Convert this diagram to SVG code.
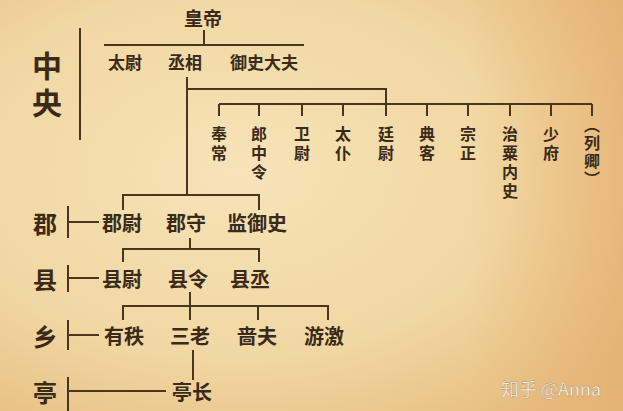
<svg xmlns="http://www.w3.org/2000/svg" width="623" height="411" viewBox="0 0 623 411">
<defs>
<radialGradient id="bg" cx="0.38" cy="0.42" r="0.75">
<stop offset="0" stop-color="#f6e3b8"/>
<stop offset="0.6" stop-color="#f1d7a2"/>
<stop offset="1" stop-color="#e6bd80"/>
</radialGradient>
<linearGradient id="rt" x1="0" y1="0" x2="1" y2="0">
<stop offset="0.75" stop-color="#e8b070" stop-opacity="0"/>
<stop offset="1" stop-color="#e4a868" stop-opacity="0.5"/>
</linearGradient>
<style>
text{font-family:"Noto Sans CJK SC","Noto Sans",sans-serif;font-weight:bold;fill:#3a2a18;text-anchor:middle;dominant-baseline:central}
.s{font-size:17px}
.v{font-size:16px;writing-mode:vertical-rl;text-anchor:start;letter-spacing:3px}
.v2{font-size:16px;writing-mode:vertical-rl;text-anchor:start;letter-spacing:2px}
.m{font-size:20px}
.L{font-size:24px}
.XL{font-size:30px;writing-mode:vertical-rl;text-anchor:start;letter-spacing:7px}
.ln{stroke:#4a3520;stroke-width:2;fill:none}
.wm{font-family:"Noto Sans CJK SC","Noto Sans",sans-serif;font-weight:normal;font-size:18px;fill:#ffffff;stroke:#a08a66;stroke-width:0.4;text-anchor:start}
</style>
</defs>
<rect width="623" height="411" fill="url(#bg)"/>
<rect width="623" height="411" fill="url(#rt)"/>

<g id="connectors" class="ln">
<path d="M204 30V45M104 45H304"/>
<path d="M80 28V140"/>
<path d="M187 77V195M187 89H386V116"/>
<path d="M219 104H592M219 104V116M259 104V116M302 104V116M343 104V116M427 104V116M468 104V116M510 104V116M551 104V116M592 104V116"/>
<path d="M123 210V195H259V210"/>
<path d="M190 238V249M123 262V249H259V262"/>
<path d="M190 292V306M123 320V306H328V320M190 306V320M258 306V320"/>
<path d="M193 350V380"/>
<path d="M68 206V238M68 222H99"/>
<path d="M68 265V292M68 278H99"/>
<path d="M68 320V350M68 335H99"/>
<path d="M68 377V411M68 391H166"/>
</g>

<g id="huangdi"><text x="203" y="17" style="font-size:19px">皇帝</text></g>
<g id="taiwei"><text class="s" x="125" y="61">太尉</text></g>
<g id="chengxiang"><text class="s" x="185" y="61">丞相</text></g>
<g id="yushidafu"><text class="s" x="264" y="61">御史大夫</text></g>
<g id="zhongyang"><text class="XL" x="47" y="51">中央</text></g>

<g id="fengchang"><text class="v" x="219" y="126">奉常</text></g>
<g id="langzhongling"><text class="v" x="259" y="126">郎中令</text></g>
<g id="weiwei"><text class="v" x="302" y="126">卫尉</text></g>
<g id="taipu"><text class="v" x="343" y="126">太仆</text></g>
<g id="tingwei"><text class="v" x="386" y="126">廷尉</text></g>
<g id="dianke"><text class="v" x="427" y="126">典客</text></g>
<g id="zongzheng"><text class="v" x="468" y="126">宗正</text></g>
<g id="zhisuneishi"><text class="v" x="510" y="126">治粟内史</text></g>
<g id="shaofu"><text class="v" x="551" y="126">少府</text></g>
<g id="lieqing"><text class="v2" x="592" y="117">（列卿）</text></g>

<g id="jun"><text class="L" x="45" y="222">郡</text></g>
<g id="junwei"><text class="m" x="122" y="222">郡尉</text></g>
<g id="junshou"><text class="m" x="186" y="222">郡守</text></g>
<g id="jianyushi"><text class="m" x="257" y="222">监御史</text></g>

<g id="xian"><text class="L" x="45" y="278">县</text></g>
<g id="xianwei"><text class="m" x="122" y="278">县尉</text></g>
<g id="xianling"><text class="m" x="188" y="278">县令</text></g>
<g id="xiancheng"><text class="m" x="250" y="278">县丞</text></g>

<g id="xiang"><text class="L" x="45" y="335">乡</text></g>
<g id="youzhi"><text class="m" x="124" y="335">有秩</text></g>
<g id="sanlao"><text class="m" x="190" y="335">三老</text></g>
<g id="sefu"><text class="m" x="257" y="335">啬夫</text></g>
<g id="youjiao"><text class="m" x="324" y="335">游激</text></g>

<g id="ting"><text class="L" x="45" y="391">亭</text></g>
<g id="tingzhang"><text class="m" x="192" y="391">亭长</text></g>

<text class="wm" x="501" y="388">知乎 @Anna</text>
</svg>
